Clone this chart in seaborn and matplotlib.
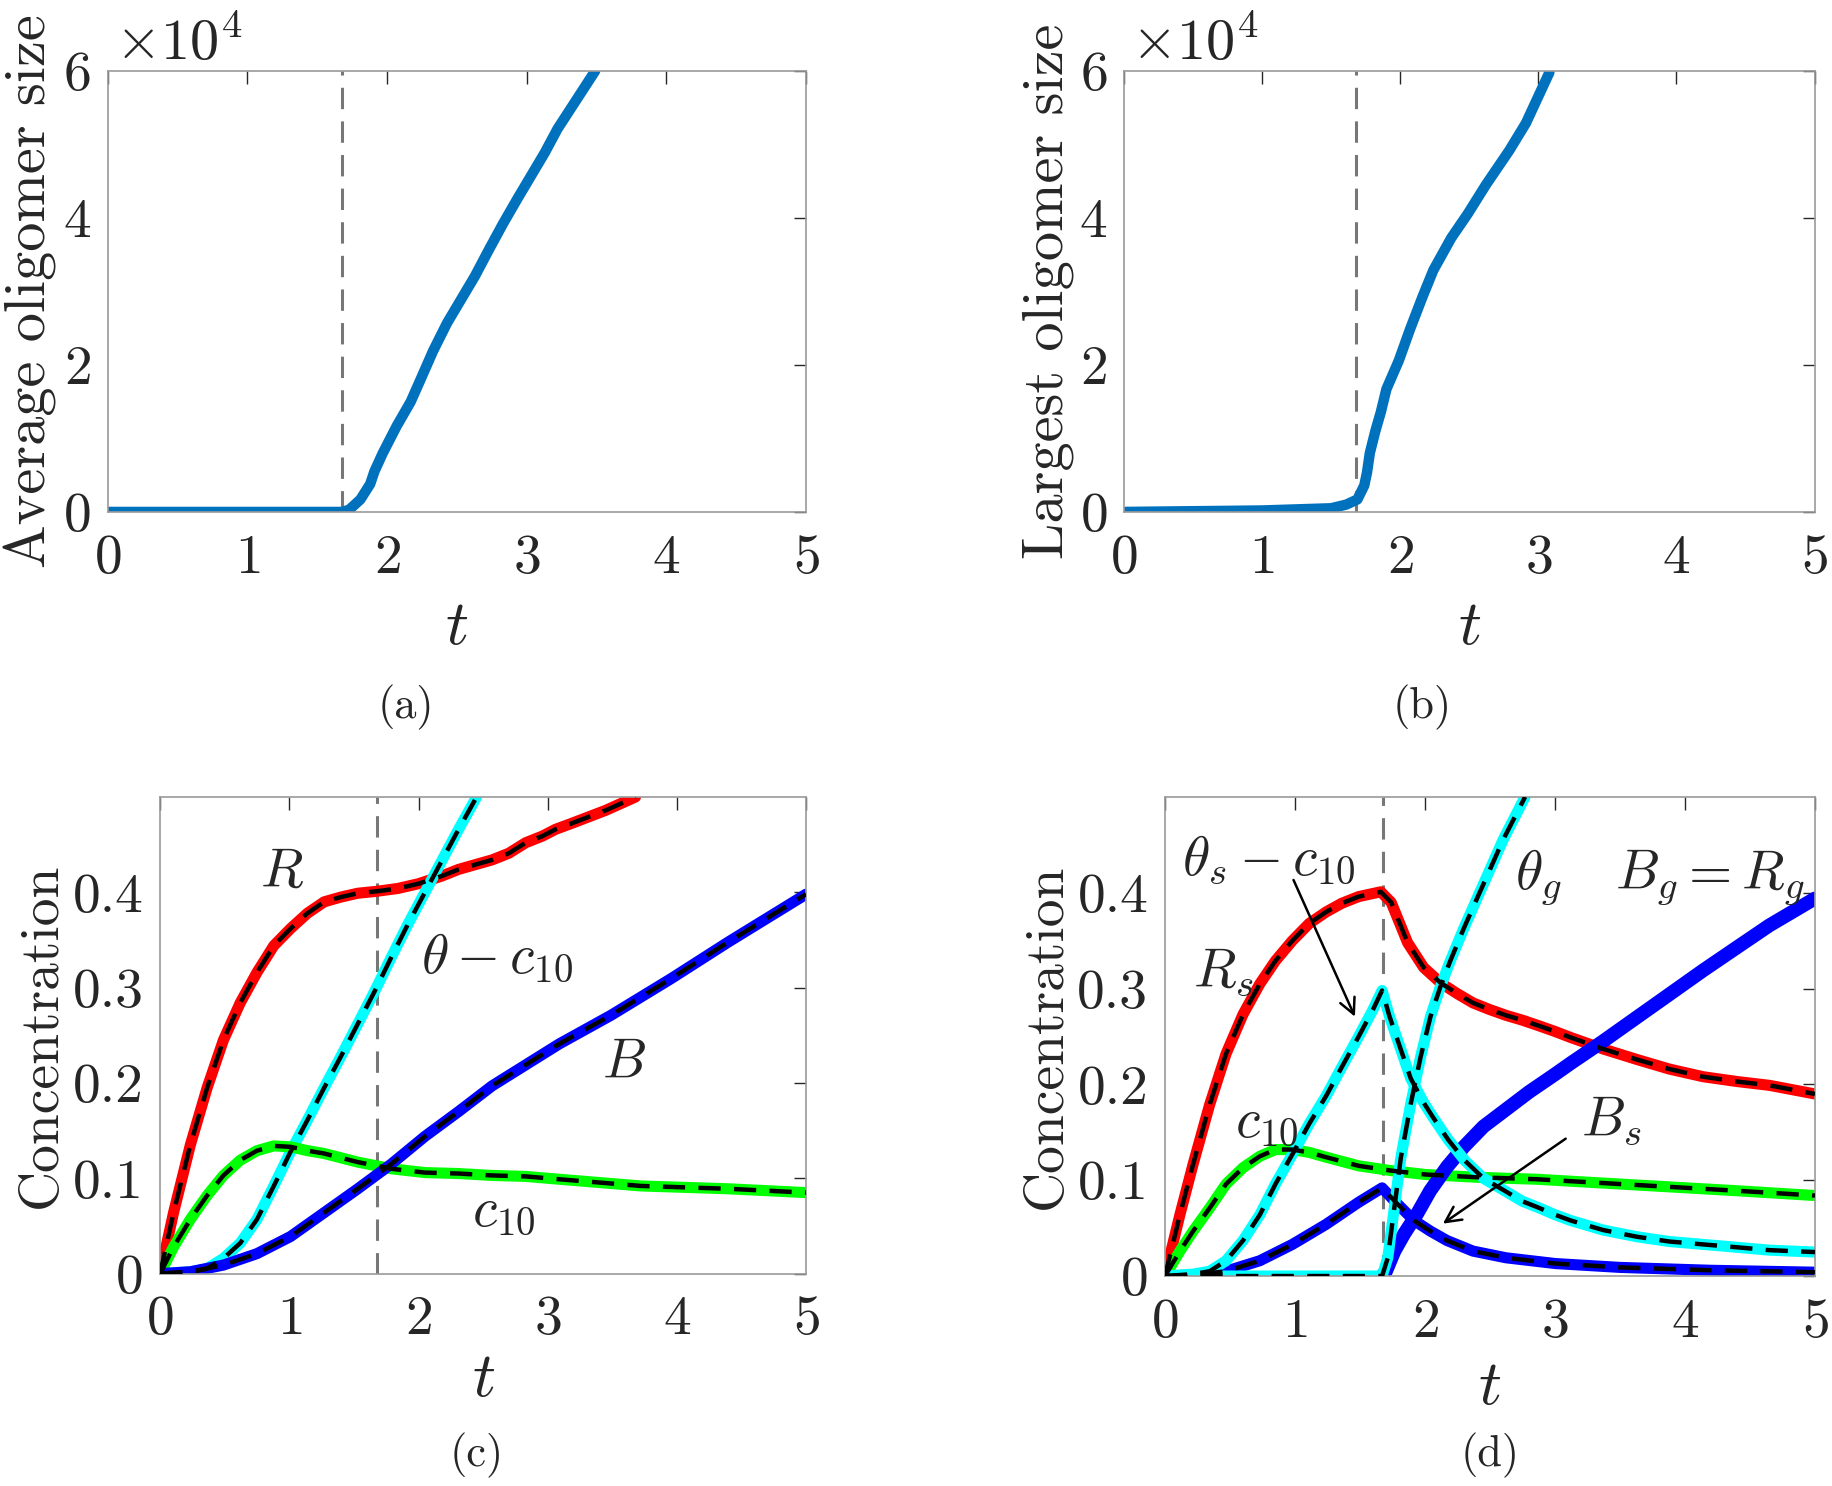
import numpy as np
import pandas as pd
import seaborn as sns
import matplotlib.pyplot as plt

sns.set_style("white")
plt.rcParams['font.family'] = ['cmr10', 'DejaVu Serif']
plt.rcParams['mathtext.fontset'] = 'cm'
plt.rcParams['axes.formatter.use_mathtext'] = True

# ---- data ----
t_crit = 1.68

# (a) average oligomer size, units of 1e4
t_avg = [0, 0.5, 1.0, 1.5, 1.68, 1.73, 1.81, 1.88, 1.91, 1.97, 2.07, 2.17, 2.24, 2.33, 2.43,
         2.53, 2.63, 2.73, 2.83, 2.93, 3.03, 3.13, 3.22, 3.36, 3.49]
avg_size = [0, 0, 0, 0, 0, 0.03, 0.17, 0.38, 0.55, 0.80, 1.17, 1.50, 1.80, 2.19, 2.57,
            2.89, 3.21, 3.57, 3.92, 4.25, 4.57, 4.89, 5.21, 5.62, 6.0]

# (b) largest oligomer size, units of 1e4
t_max = [0, 0.5, 1.0, 1.5, 1.61, 1.69, 1.74, 1.76, 1.78, 1.82, 1.86, 1.90, 1.99, 2.07, 2.16,
         2.24, 2.37, 2.49, 2.62, 2.79, 2.91, 3.08]
max_size = [0, 0.01, 0.02, 0.05, 0.1, 0.17, 0.36, 0.54, 0.8, 1.1, 1.36, 1.67, 2.06, 2.48, 2.92,
            3.29, 3.73, 4.06, 4.45, 4.92, 5.29, 5.98]

# (c) concentrations
t_R = [0, 0.104, 0.234, 0.364, 0.49, 0.62, 0.75, 0.88, 1.01, 1.14, 1.27, 1.40, 1.53, 1.675,
       1.84, 2.0, 2.18, 2.31, 2.44, 2.57, 2.70, 2.83, 2.96, 3.06, 3.18, 3.45, 3.68]
R = [0, 0.064, 0.135, 0.195, 0.245, 0.284, 0.316, 0.344, 0.362, 0.378, 0.39, 0.395, 0.399,
     0.401, 0.404, 0.409, 0.417, 0.424, 0.429, 0.434, 0.441, 0.452, 0.459, 0.466, 0.472,
     0.486, 0.50]
t_theta = [0, 0.234, 0.36, 0.49, 0.62, 0.75, 0.88, 1.01, 1.14, 1.27, 1.40, 1.53, 1.66, 1.79,
           1.92, 2.05, 2.18, 2.31, 2.45]
theta_c10 = [0, 0.002, 0.005, 0.016, 0.032, 0.057, 0.092, 0.128, 0.161, 0.195, 0.228, 0.262,
             0.296, 0.332, 0.367, 0.40, 0.433, 0.466, 0.50]
t_c10 = [0, 0.104, 0.234, 0.364, 0.49, 0.62, 0.75, 0.88, 1.01, 1.14, 1.27, 1.53, 1.79, 2.05,
         2.31, 2.57, 2.83, 3.09, 3.72, 4.40, 5.0]
c10 = [0, 0.028, 0.057, 0.082, 0.103, 0.119, 0.129, 0.134, 0.133, 0.129, 0.126, 0.117, 0.11,
       0.106, 0.105, 0.103, 0.102, 0.099, 0.092, 0.089, 0.085]
t_B = [0, 0.234, 0.49, 0.75, 1.01, 1.27, 1.53, 1.79, 2.05, 2.31, 2.57, 2.83, 3.09, 3.49, 3.95,
       4.40, 5.0]
B = [0, 0.002, 0.009, 0.021, 0.039, 0.064, 0.089, 0.115, 0.144, 0.17, 0.197, 0.219, 0.241,
     0.271, 0.309, 0.348, 0.398]

# (d) split concentrations
t_Rs = [0, 0.115, 0.217, 0.344, 0.47, 0.60, 0.73, 0.85, 0.98, 1.11, 1.24, 1.36, 1.49, 1.66,
        1.74, 1.866, 1.99, 2.12, 2.245, 2.37, 2.50, 2.625, 2.75, 2.88, 3.005, 3.12, 3.37,
        3.63, 3.88, 4.14, 4.40, 4.65, 5.0]
Rs = [0, 0.064, 0.117, 0.179, 0.232, 0.273, 0.305, 0.329, 0.35, 0.368, 0.38, 0.389, 0.396,
      0.401, 0.39, 0.348, 0.322, 0.306, 0.295, 0.285, 0.278, 0.272, 0.267, 0.261, 0.255,
      0.249, 0.237, 0.226, 0.216, 0.208, 0.203, 0.199, 0.19]
t_ths = [0, 0.217, 0.344, 0.47, 0.60, 0.73, 0.85, 0.98, 1.11, 1.24, 1.36, 1.49, 1.60, 1.67,
         1.727, 1.815, 1.891, 1.99, 2.06, 2.18, 2.31, 2.45, 2.60, 2.75, 2.88, 3.0, 3.12, 3.37,
         3.63, 3.88, 4.14, 4.40, 4.65, 5.0]
theta_s_c10 = [0, 0.002, 0.005, 0.016, 0.037, 0.064, 0.096, 0.127, 0.159, 0.188, 0.218, 0.25,
               0.278, 0.298, 0.271, 0.236, 0.206, 0.181, 0.166, 0.142, 0.12, 0.102, 0.09,
               0.078, 0.071, 0.064, 0.058, 0.048, 0.041, 0.036, 0.033, 0.03, 0.027, 0.025]
t_thg = [0, 1.67, 1.714, 1.765, 1.815, 1.891, 1.967, 2.043, 2.119, 2.195, 2.296, 2.397, 2.499,
         2.60, 2.77]
theta_g = [0, 0, 0.019, 0.072, 0.124, 0.18, 0.229, 0.271, 0.302, 0.329, 0.362, 0.393, 0.424,
           0.455, 0.50]
t_c10d = [0, 0.115, 0.217, 0.344, 0.47, 0.60, 0.73, 0.85, 0.98, 1.11, 1.24, 1.49, 1.74, 2.0,
          2.41, 2.86, 3.63, 4.40, 5.0]
c10_d = [0, 0.026, 0.047, 0.071, 0.096, 0.113, 0.125, 0.132, 0.132, 0.129, 0.124, 0.115, 0.11,
         0.106, 0.103, 0.101, 0.095, 0.089, 0.084]
t_Bs = [0, 0.217, 0.47, 0.73, 0.98, 1.24, 1.49, 1.67, 1.79, 1.916, 2.04, 2.17, 2.37, 2.625,
        3.005, 3.5, 4.2, 5.0]
Bs = [0, 0.001, 0.005, 0.016, 0.033, 0.054, 0.077, 0.092, 0.075, 0.058, 0.047, 0.037, 0.026,
      0.019, 0.013, 0.009, 0.006, 0.004]
t_Bg = [1.67, 1.70, 1.765, 1.84, 1.94, 2.04, 2.17, 2.30, 2.45, 2.625, 2.80, 3.005, 3.12, 3.37,
        3.63, 3.88, 4.14, 4.40, 4.65, 5.0]
Bg = [0, 0.005, 0.026, 0.044, 0.065, 0.089, 0.114, 0.135, 0.156, 0.174, 0.192, 0.211, 0.222,
      0.245, 0.27, 0.294, 0.319, 0.343, 0.366, 0.394]

matlab_blue = '#0072BD'
tick_fs = 40
ink = '#262626'


def style_axes(ax, ylim, yticks, xlabelpad):
    ax.set_xlim(0, 5)
    ax.set_ylim(*ylim)
    ax.set_xticks([0, 1, 2, 3, 4, 5])
    ax.set_yticks(yticks)
    ax.tick_params(direction='in', length=9, width=1, top=True, right=True,
                   labelsize=tick_fs, colors=ink, pad=12)
    ax.tick_params(axis='x', pad=16)
    for s in ax.spines.values():
        s.set_color('#9a9a9a')
        s.set_linewidth(1.2)
    ax.set_xlabel(r'$t$', fontsize=46, labelpad=xlabelpad)
    ax.axvline(t_crit, color='#777777', lw=2.2, dashes=(7, 4), zorder=1)


def curve(ax, t, y, color, lw=8, model=True):
    df = pd.DataFrame({'t': t, 'y': y})
    sns.lineplot(data=df, x='t', y='y', ax=ax, color=color, linewidth=lw,
                 estimator=None, sort=False, solid_capstyle='round',
                 solid_joinstyle='round', zorder=2)
    if model:
        sns.lineplot(data=df, x='t', y='y', ax=ax, color='black', linewidth=3.2,
                     estimator=None, sort=False, zorder=3).lines[-1].set_dashes((5, 3))


fig = plt.figure(figsize=(18.32, 14.86), dpi=100)
ax_a = fig.add_axes([0.0587, 0.6555, 0.3813, 0.2967])
ax_b = fig.add_axes([0.6135, 0.6555, 0.3770, 0.2967])
ax_c = fig.add_axes([0.0874, 0.1429, 0.3526, 0.3208])
ax_d = fig.add_axes([0.6359, 0.1413, 0.3548, 0.3224])

# (a)
curve(ax_a, t_avg, avg_size, matlab_blue, lw=7.5, model=False)
style_axes(ax_a, (0, 6), [0, 2, 4, 6], 11)
ax_a.set_ylabel('Average oligomer size', fontsize=42, labelpad=4)
ax_a.text(0.01, 1.025, r'$\times10^{4}$', transform=ax_a.transAxes, fontsize=42,
          ha='left', va='baseline', color=ink)

# (b)
curve(ax_b, t_max, max_size, matlab_blue, lw=7.5, model=False)
style_axes(ax_b, (0, 6), [0, 2, 4, 6], 11)
ax_b.set_ylabel('Largest oligomer size', fontsize=42, labelpad=4)
ax_b.text(0.01, 1.025, r'$\times10^{4}$', transform=ax_b.transAxes, fontsize=42,
          ha='left', va='baseline', color=ink)

# (c)
curve(ax_c, t_R, R, 'red')
curve(ax_c, t_theta, theta_c10, 'cyan')
curve(ax_c, t_c10, c10, 'lime')
curve(ax_c, t_B, B, 'blue')
style_axes(ax_c, (0, 0.5), [0, 0.1, 0.2, 0.3, 0.4], 4)
ax_c.set_yticklabels(['0', '0.1', '0.2', '0.3', '0.4'])
ax_c.set_ylabel('Concentration', fontsize=40, labelpad=4)
ax_c.text(0.94, 0.42, r'$R$', fontsize=40, ha='center', va='center')
ax_c.text(2.61, 0.331, r'$\theta - c_{10}$', fontsize=40, ha='center', va='center')
ax_c.text(3.59, 0.22, r'$B$', fontsize=40, ha='center', va='center')
ax_c.text(2.66, 0.064, r'$c_{10}$', fontsize=40, ha='center', va='center')

# (d)
curve(ax_d, t_Rs, Rs, 'red')
curve(ax_d, t_c10d, c10_d, 'lime')
curve(ax_d, t_Bs, Bs, 'blue')
curve(ax_d, t_Bg, Bg, 'blue', lw=10, model=False)
curve(ax_d, t_ths, theta_s_c10, 'cyan')
curve(ax_d, t_thg, theta_g, 'cyan')
style_axes(ax_d, (0, 0.5), [0, 0.1, 0.2, 0.3, 0.4], 8)
ax_d.set_yticklabels(['0', '0.1', '0.2', '0.3', '0.4'])
ax_d.set_ylabel('Concentration', fontsize=40, labelpad=4)
ax_d.text(0.80, 0.435, r'$\theta_s - c_{10}$', fontsize=40, ha='center', va='center')
ax_d.annotate('', xy=(1.47, 0.268), xytext=(0.98, 0.416),
              arrowprops=dict(arrowstyle='->', color='black', lw=1.8, mutation_scale=28))
ax_d.text(0.45, 0.317, r'$R_s$', fontsize=40, ha='center', va='center')
ax_d.text(0.78, 0.16, r'$c_{10}$', fontsize=40, ha='center', va='center')
ax_d.text(2.87, 0.416, r'$\theta_g$', fontsize=40, ha='center', va='center')
ax_d.text(4.19, 0.416, r'$B_g = R_g$', fontsize=40, ha='center', va='center')
ax_d.text(3.43, 0.162, r'$B_s$', fontsize=40, ha='center', va='center')
ax_d.annotate('', xy=(2.12, 0.053), xytext=(3.10, 0.145),
              arrowprops=dict(arrowstyle='->', color='black', lw=1.8, mutation_scale=28))

# panel captions
for lbl, x, y in [('(a)', 406, 707), ('(b)', 1422, 707), ('(c)', 477, 1455), ('(d)', 1490, 1455)]:
    fig.text(x / 1832, 1 - y / 1486, lbl, fontsize=32, ha='center', va='center')

fig.savefig('out.png', dpi=100)
